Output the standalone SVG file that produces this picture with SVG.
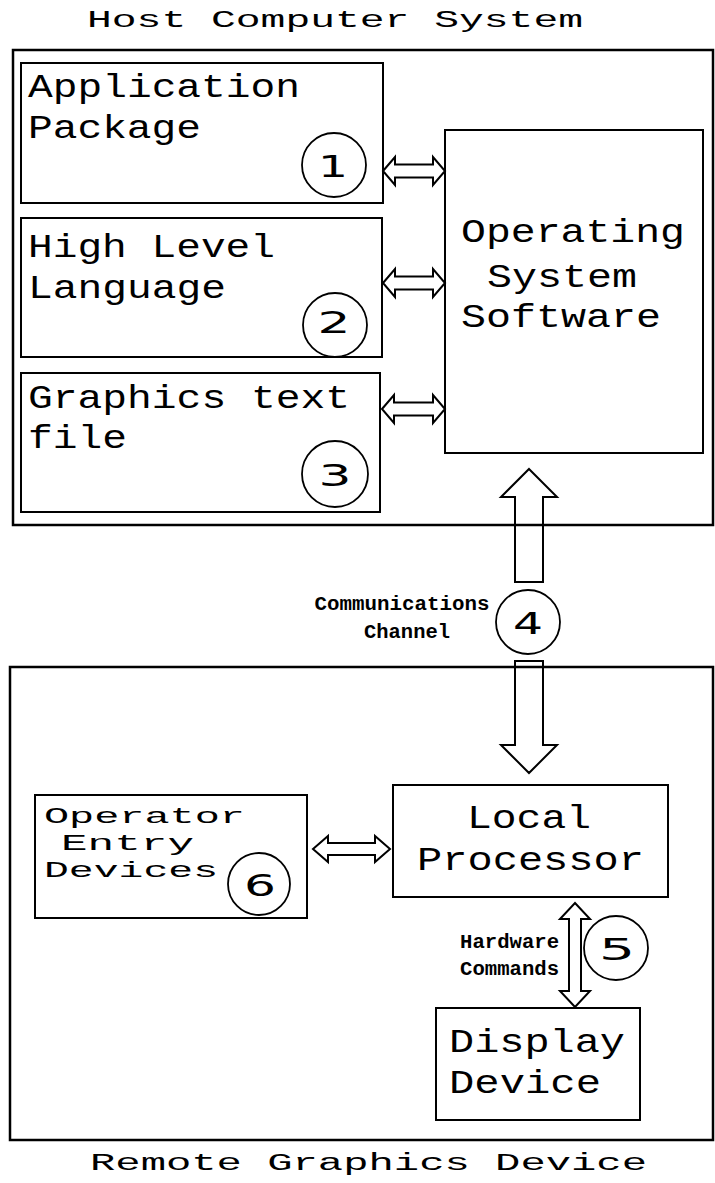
<svg xmlns="http://www.w3.org/2000/svg" width="715" height="1183" viewBox="0 0 715 1183">
  <style>
    .frame { fill: none; stroke: #000; stroke-width: 2.5; }
    .box { fill: #fff; stroke: #000; stroke-width: 2; }
    .badge { fill: #fff; stroke: #000; stroke-width: 1.8; }
    .arrow { fill: #fff; stroke: #000; stroke-width: 2; stroke-linejoin: miter; }
    .bigarrow { fill: none; stroke: #000; stroke-width: 2; stroke-linejoin: miter; }
    .label { font-family: "Liberation Mono", "Courier New", monospace; font-size: 33px; fill: #000; }
    .small { font-family: "Liberation Mono", "Courier New", monospace; font-size: 22px; fill: #000; }
    .title { font-family: "Liberation Mono", "Courier New", monospace; font-size: 23px; fill: #000; }
    .note { font-family: "Liberation Mono", "Courier New", monospace; font-size: 20px; font-weight: bold; fill: #000; }
    .num { font-family: "DejaVu Sans", "Liberation Sans", sans-serif; font-size: 31px; fill: #000; text-anchor: middle; }
  </style>

  <rect x="0" y="0" width="715" height="1183" fill="#fff"/>

  <!-- Host computer system -->
  <g id="host-system">
    <text class="title" x="87" y="27" textLength="496" lengthAdjust="spacingAndGlyphs">Host Computer System</text>
    <rect class="frame" x="13" y="50" width="700" height="475"/>
  </g>

  <g id="application-package">
    <rect class="box" x="21" y="63" width="362" height="140"/>
    <text class="label" x="28" y="97" textLength="272" lengthAdjust="spacingAndGlyphs">Application</text>
    <text class="label" x="28" y="138" textLength="173" lengthAdjust="spacingAndGlyphs">Package</text>
    <circle class="badge" cx="334" cy="165" r="32"/>
    <text class="num" x="333" y="177" textLength="30" lengthAdjust="spacingAndGlyphs">1</text>
  </g>

  <g id="high-level-language">
    <rect class="box" x="21" y="218" width="361" height="139"/>
    <text class="label" x="28" y="257" textLength="247" lengthAdjust="spacingAndGlyphs">High Level</text>
    <text class="label" x="28" y="298" textLength="198" lengthAdjust="spacingAndGlyphs">Language</text>
    <circle class="badge" cx="335" cy="325" r="32"/>
    <text class="num" x="334" y="333" textLength="33" lengthAdjust="spacingAndGlyphs">2</text>
  </g>

  <g id="graphics-text-file">
    <rect class="box" x="21" y="373" width="359" height="139"/>
    <text class="label" x="28" y="408" textLength="322" lengthAdjust="spacingAndGlyphs">Graphics text</text>
    <text class="label" x="28" y="448" textLength="99" lengthAdjust="spacingAndGlyphs">file</text>
    <circle class="badge" cx="335" cy="474" r="33"/>
    <text class="num" x="335" y="486" textLength="33" lengthAdjust="spacingAndGlyphs">3</text>
  </g>

  <g id="operating-system">
    <rect class="box" x="445" y="130" width="258" height="323"/>
    <text class="label" x="461" y="242" textLength="224" lengthAdjust="spacingAndGlyphs">Operating</text>
    <text class="label" x="487" y="287" textLength="150" lengthAdjust="spacingAndGlyphs">System</text>
    <text class="label" x="461" y="327" textLength="200" lengthAdjust="spacingAndGlyphs">Software</text>
  </g>

  <!-- Remote graphics device -->
  <g id="remote-device">
    <rect class="frame" x="10" y="667" width="703" height="473"/>
    <text class="title" x="90" y="1170" textLength="557" lengthAdjust="spacingAndGlyphs">Remote Graphics Device</text>
  </g>

  <g id="communications-channel">
    <text class="note" x="402" y="610" text-anchor="middle" textLength="175" lengthAdjust="spacingAndGlyphs">Communications</text>
    <text class="note" x="407" y="638" text-anchor="middle" textLength="86" lengthAdjust="spacingAndGlyphs">Channel</text>
    <circle class="badge" cx="528" cy="622" r="32"/>
    <text class="num" x="528" y="634" textLength="30" lengthAdjust="spacingAndGlyphs">4</text>
  </g>

  <g id="operator-entry-devices">
    <rect class="box" x="35" y="795" width="272" height="123"/>
    <text class="small" x="44" y="823" textLength="201" lengthAdjust="spacingAndGlyphs">Operator</text>
    <text class="small" x="61" y="850" textLength="133" lengthAdjust="spacingAndGlyphs">Entry</text>
    <text class="small" x="44" y="877" textLength="174" lengthAdjust="spacingAndGlyphs">Devices</text>
    <circle class="badge" cx="259" cy="884" r="31"/>
    <text class="num" x="260" y="896" textLength="32" lengthAdjust="spacingAndGlyphs">6</text>
  </g>

  <g id="local-processor">
    <rect class="box" x="393" y="785" width="275" height="112"/>
    <text class="label" x="467" y="828" textLength="124" lengthAdjust="spacingAndGlyphs">Local</text>
    <text class="label" x="417" y="870" textLength="227" lengthAdjust="spacingAndGlyphs">Processor</text>
  </g>

  <g id="hardware-commands">
    <text class="note" x="559" y="948" text-anchor="end" textLength="99" lengthAdjust="spacingAndGlyphs">Hardware</text>
    <text class="note" x="559" y="975" text-anchor="end" textLength="99" lengthAdjust="spacingAndGlyphs">Commands</text>
    <circle class="badge" cx="616" cy="948" r="32"/>
    <text class="num" x="617" y="960" textLength="36" lengthAdjust="spacingAndGlyphs">5</text>
  </g>

  <g id="display-device">
    <rect class="box" x="436" y="1008" width="204" height="112"/>
    <text class="label" x="449" y="1052" textLength="176" lengthAdjust="spacingAndGlyphs">Display</text>
    <text class="label" x="449" y="1093" textLength="152" lengthAdjust="spacingAndGlyphs">Device</text>
  </g>

  <!-- Connectors: hollow double-headed and block arrows -->
  <g id="connectors">
    <path class="arrow" d="M383,171 L395,157 L395,164.5 L433,164.5 L433,157 L445,171 L433,185 L433,177.5 L395,177.5 L395,185 Z"/>
    <path class="arrow" d="M383,283 L395,269 L395,276.5 L433,276.5 L433,269 L445,283 L433,297 L433,289.5 L395,289.5 L395,297 Z"/>
    <path class="arrow" d="M382,409 L394,395 L394,402.5 L433,402.5 L433,395 L445,409 L433,423 L433,415.5 L394,415.5 L394,423 Z"/>
    <path class="bigarrow" d="M529,469 L557,497 L543,497 L543,582 L515,582 L515,497 L501,497 Z"/>
    <path class="bigarrow" d="M515,661 L543,661 L543,745 L557,745 L529,773 L501,745 L515,745 Z"/>
    <path class="arrow" d="M313,849 L328,836 L328,843 L375,843 L375,836 L390,849 L375,862 L375,855 L328,855 L328,862 Z"/>
    <path class="arrow" d="M575,903 L590,919 L581,919 L581,991 L590,991 L575,1007 L560,991 L569,991 L569,919 L560,919 Z"/>
  </g>
</svg>
